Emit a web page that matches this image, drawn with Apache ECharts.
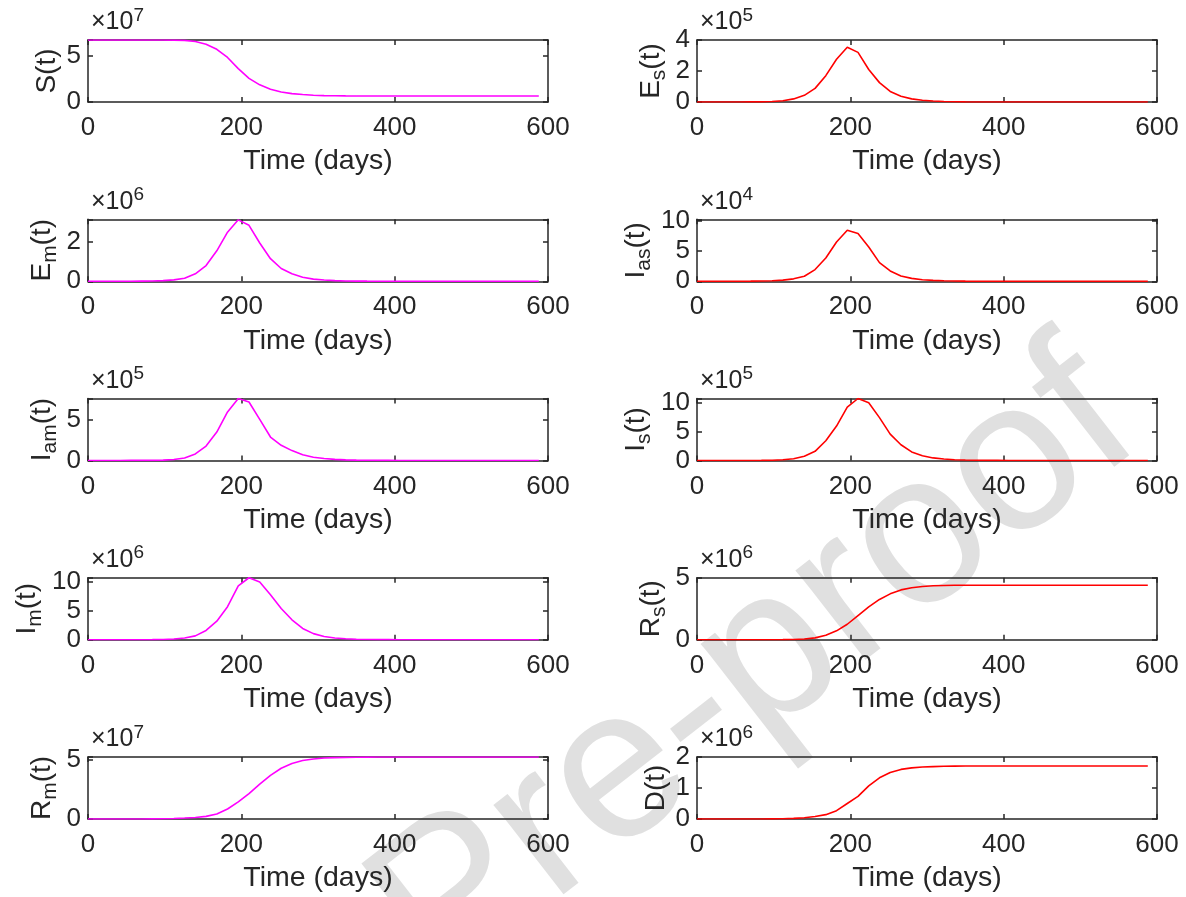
<!DOCTYPE html>
<html>
<head>
<meta charset="utf-8">
<style>
html,body{margin:0;padding:0;background:#fff;}
#chart{width:1186px;height:897px;}
</style>
<script src="https://cdn.jsdelivr.net/npm/echarts@6/dist/echarts.min.js"></script>
</head>
<body>
<div id="chart"></div>
<script>
// ---------------- DATA ----------------
const days = [0,14,28,42,56,70,84,98,112,126,140,154,168,182,196,210,224,238,252,266,280,294,308,322,336,350,364,378,392,406,420,434,448,462,476,490,504,518,532,546,560,574,588];

// values in displayed units (multiply by 10^exponent)
const S   = [6.68,6.68,6.68,6.68,6.68,6.68,6.68,6.68,6.67,6.64,6.52,6.23,5.68,4.8,3.6,2.55,1.85,1.38,1.08,0.9,0.8,0.73,0.69,0.67,0.655,0.648,0.645,0.643,0.642,0.641,0.64,0.64,0.64,0.64,0.64,0.64,0.64,0.64,0.64,0.64,0.64,0.64,0.64];
const Es  = [0,0,0,0,0,0.005,0.01,0.03,0.08,0.2,0.43,0.88,1.7,2.76,3.53,3.2,2.1,1.25,0.68,0.37,0.2,0.11,0.06,0.03,0.015,0.008,0.004,0.002,0.001,0,0,0,0,0,0,0,0,0,0,0,0,0,0];
const Em  = [0,0,0,0,0,0.005,0.01,0.03,0.07,0.15,0.38,0.8,1.55,2.5,3.13,2.85,1.95,1.15,0.65,0.38,0.2,0.11,0.06,0.03,0.015,0.008,0.004,0.002,0.001,0,0,0,0,0,0,0,0,0,0,0,0,0,0];
const Ias = [0,0,0,0,0.01,0.02,0.04,0.08,0.18,0.4,0.83,1.94,3.87,6.53,8.47,7.93,5.7,3.1,1.71,0.88,0.48,0.26,0.14,0.08,0.04,0.02,0.01,0,0,0,0,0,0,0,0,0,0,0,0,0,0,0,0];
const Iam = [0,0,0,0,0.01,0.01,0.02,0.05,0.12,0.3,0.8,1.75,3.45,5.9,7.53,7.1,5.0,2.85,1.85,1.2,0.7,0.4,0.24,0.14,0.08,0.05,0.03,0.02,0.01,0,0,0,0,0,0,0,0,0,0,0,0,0,0];
const Is  = [0,0,0,0,0,0.01,0.02,0.05,0.12,0.3,0.75,1.6,3.45,6.0,9.3,10.8,10.05,7.47,4.6,2.75,1.5,0.82,0.45,0.25,0.14,0.08,0.05,0.03,0.02,0.01,0,0,0,0,0,0,0,0,0,0,0,0,0];
const Im  = [0,0,0,0,0,0.01,0.02,0.05,0.12,0.3,0.67,1.6,3.2,5.7,9.3,10.7,9.97,7.75,5.4,3.45,1.95,1.06,0.56,0.3,0.16,0.09,0.05,0.03,0.02,0.01,0,0,0,0,0,0,0,0,0,0,0,0,0];
const Rs  = [0,0,0,0,0,0,0,0.003,0.008,0.02,0.06,0.15,0.36,0.72,1.25,1.95,2.65,3.25,3.7,4.02,4.2,4.3,4.35,4.38,4.39,4.4,4.4,4.4,4.4,4.4,4.4,4.4,4.4,4.4,4.4,4.4,4.4,4.4,4.4,4.4,4.4,4.4,4.4];
const Rm  = [0,0,0,0,0,0,0.01,0.02,0.04,0.08,0.13,0.22,0.42,0.85,1.45,2.15,2.95,3.7,4.3,4.7,4.95,5.08,5.16,5.2,5.22,5.23,5.24,5.25,5.25,5.25,5.25,5.25,5.25,5.25,5.25,5.25,5.25,5.25,5.25,5.25,5.25,5.25,5.25];
const D   = [0,0,0,0,0,0,0,0.005,0.01,0.02,0.04,0.08,0.14,0.27,0.5,0.73,1.07,1.33,1.5,1.6,1.65,1.675,1.69,1.7,1.705,1.71,1.71,1.71,1.71,1.71,1.71,1.71,1.71,1.71,1.71,1.71,1.71,1.71,1.71,1.71,1.71,1.71,1.71];

// panel order: left column top->bottom, then right column top->bottom
const panelSeries  = [S, Em, Iam, Im, Rm, Es, Ias, Is, Rs, D];
const panelBase    = ['S', 'E', 'I', 'I', 'R', 'E', 'I', 'I', 'R', 'D'];
const panelSub     = ['', 'm', 'am', 'm', 'm', 's', 'as', 's', 's', ''];
const panelExp     = ['7', '6', '5', '6', '7', '5', '4', '5', '6', '6'];
const panelYMax    = [6.68, 3.16, 7.53, 10.7, 5.25, 4, 10.3, 10.8, 5, 2];
const panelYStep   = [5, 2, 5, 5, 5, 2, 5, 5, 5, 1];
const xTicks       = [0, 200, 400, 600];
const xLabel       = 'Time (days)';

// ---------------- LAYOUT / STYLE ----------------
const colLeft = [88, 697];
const plotW = 460, plotH = 62;
const rowTop0 = 40, rowStep = 179.25;
const FONT = '"Liberation Sans", Arial, Helvetica, sans-serif';
const AX = '#262626';
const colColors = ['#ff00ff', '#ff0000'];

const grids = [], xAxes = [], yAxes = [], series = [], graphics = [];

graphics.push({
  type: 'text', x: 1110, y: 395, rotation: 0.66, z: -100, silent: true,
  style: { text: 'Journal Pre-proof', fontSize: 215, fontFamily: FONT, fill: '#e0e0e0',
           align: 'right', verticalAlign: 'middle' }
});

for (let p = 0; p < 10; p++) {
  const col = p < 5 ? 0 : 1;
  const row = p % 5;
  const left = colLeft[col];
  const top = rowTop0 + row * rowStep;
  grids.push({ left: left, top: top, width: plotW, height: plotH, containLabel: false });
  const step = panelYStep[p];
  const twoDigit = panelYMax[p] >= 10;
  const commonX = { type: 'value', gridIndex: p, min: 0, max: 600, interval: 200, splitLine: { show: false },
    axisLine: { show: true, onZero: false, lineStyle: { color: AX, width: 1.5 } },
    axisTick: { show: true, inside: true, length: 5, lineStyle: { color: AX, width: 1.5 } } };
  xAxes.push(Object.assign({}, commonX, { position: 'bottom',
    axisLabel: { show: true, margin: 13, fontSize: 26, fontFamily: FONT, color: AX,
      formatter: v => xTicks.indexOf(v) >= 0 ? String(v) : '' },
    name: xLabel, nameLocation: 'middle', nameGap: 45,
    nameTextStyle: { fontSize: 28.5, fontFamily: FONT, color: AX } }));
  xAxes.push(Object.assign({}, commonX, { position: 'top', axisLabel: { show: false } }));

  const commonY = { type: 'value', gridIndex: p, min: 0, max: panelYMax[p], interval: step, splitLine: { show: false },
    axisLine: { show: true, onZero: false, lineStyle: { color: AX, width: 1.5 } },
    axisTick: { show: true, inside: true, length: 5, lineStyle: { color: AX, width: 1.5 } } };
  const sub = panelSub[p];
  const nm = sub ? ('{m|' + panelBase[p] + '}{s|' + sub + '}{m|(t)}') : ('{m|' + panelBase[p] + '(t)}');
  yAxes.push(Object.assign({}, commonY, { position: 'left',
    axisLabel: { show: true, margin: 7, fontSize: 26, fontFamily: FONT, color: AX,
      formatter: v => (Math.abs(v / step - Math.round(v / step)) < 1e-6) ? String(Math.round(v)) : '' },
    name: nm, nameLocation: 'middle', nameRotate: 90, nameGap: twoDigit ? 42 : 27,
    nameTextStyle: { fontFamily: FONT, color: AX, fontSize: 28,
      rich: { m: { fontSize: 28, fontFamily: FONT, color: AX },
              s: { fontSize: 21, fontFamily: FONT, color: AX, padding: [17, 0, 0, 0] } } } }));
  yAxes.push(Object.assign({}, commonY, { position: 'right', axisLabel: { show: false } }));

  series.push({ type: 'line', xAxisIndex: 2 * p, yAxisIndex: 2 * p, showSymbol: false, symbol: 'none',
    z: 5, clip: true, animation: false,
    lineStyle: { color: colColors[col], width: 1.6 }, itemStyle: { color: colColors[col] },
    data: days.map((d, i) => [d, panelSeries[p][i]]) });

  graphics.push({ type: 'text', x: left + 3, y: top - 1, silent: true,
    style: { text: '{a|×10}{b|' + panelExp[p] + '}', fill: AX, fontFamily: FONT,
      align: 'left', verticalAlign: 'bottom',
      rich: { a: { fontSize: 25, fontFamily: FONT, fill: AX },
              b: { fontSize: 19, fontFamily: FONT, fill: AX, padding: [0, 0, 14, 0] } } } });
}

const chart = echarts.init(document.getElementById('chart'), null, { renderer: 'canvas' });
chart.setOption({
  animation: false,
  backgroundColor: '#ffffff',
  grid: grids, xAxis: xAxes, yAxis: yAxes, series: series, graphic: graphics
});
</script>
</body>
</html>
